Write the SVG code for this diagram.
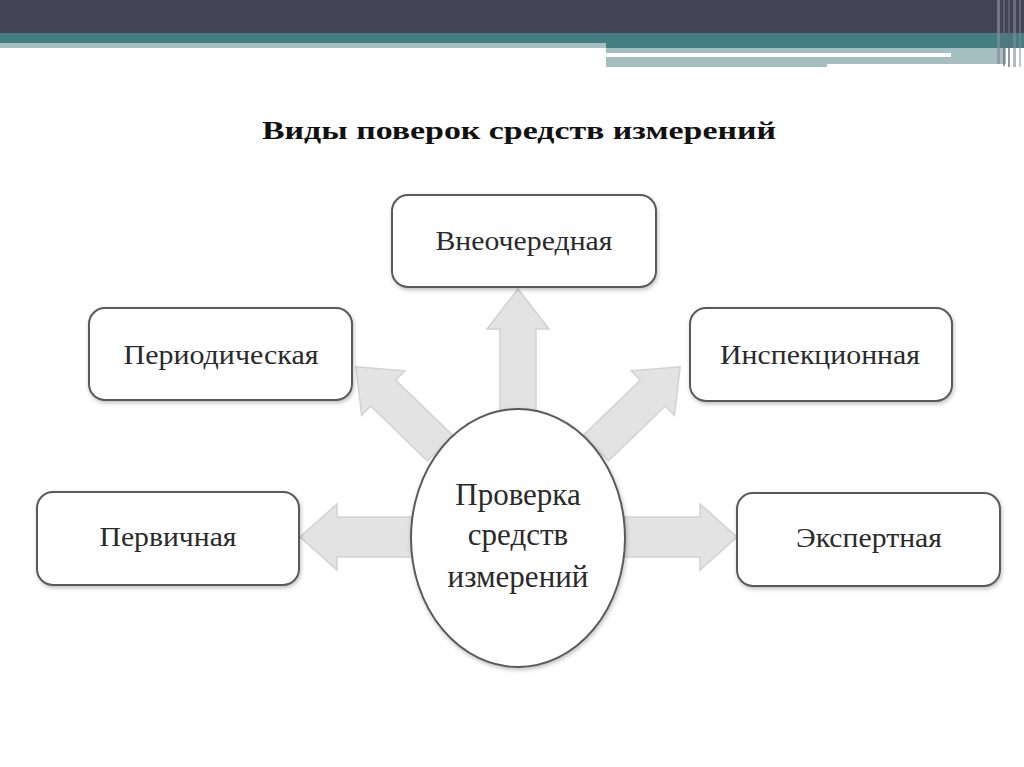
<svg xmlns="http://www.w3.org/2000/svg" width="1024" height="767" viewBox="0 0 1024 767">
<defs>
<style>
.box{fill:#fff;stroke:#5a5a5a;stroke-width:2}
.lbl{font-family:"Liberation Serif",serif;font-size:27px;fill:#2a2a2a;text-anchor:middle}
.ctr{font-family:"Liberation Serif",serif;font-size:31px;fill:#2a2a2a;text-anchor:middle}
.arr{fill:#e3e3e3;stroke:#d2d2d2;stroke-width:1.5}
</style>
<filter id="sh" x="-10%" y="-10%" width="120%" height="130%">
<feDropShadow dx="1" dy="2" stdDeviation="2" flood-color="#000" flood-opacity="0.25"/>
</filter>
</defs>
<rect width="1024" height="767" fill="#fff"/>
<g id="header">
<rect x="0" y="0" width="1024" height="33" fill="#434356"/>
<rect x="0" y="33" width="1024" height="15" fill="#437e83"/>
<rect x="0" y="43" width="606" height="5" fill="#a5bfc1"/>
<rect x="606" y="48" width="400" height="5" fill="#a5bfc1"/>
<rect x="606" y="53" width="345" height="4" fill="#fff"/>
<rect x="951" y="53" width="55" height="4" fill="#a5bfc1"/>
<rect x="606" y="57" width="221" height="10" fill="#a5bfc1"/>
<rect x="827" y="57" width="179" height="7" fill="#a5bfc1"/>
<rect x="997" y="0" width="3" height="64" fill="#8a8a9a" opacity="0.7"/>
<rect x="1003" y="0" width="2" height="66" fill="#6a6a7a" opacity="0.7"/>
<rect x="1008" y="0" width="2" height="67" fill="#6a6a7a" opacity="0.7"/>
<rect x="1013" y="0" width="3" height="67" fill="#8a8a9a" opacity="0.6"/>
<rect x="1019" y="0" width="2" height="67" fill="#8a8a9a" opacity="0.5"/>
</g>
<text x="519" y="139" font-family="Liberation Serif,serif" font-size="26" font-weight="bold" fill="#111" text-anchor="middle" textLength="514" lengthAdjust="spacingAndGlyphs">Виды поверок средств измерений</text>
<g id="connectors">
<polygon class="arr" transform="translate(518,420) rotate(-90)" points="0,-18 91,-18 91,-31 131,0 91,31 91,18 0,18"/>
<polygon class="arr" transform="translate(440,448) rotate(-136)" points="0,-18 79,-18 79,-31 117,0 79,31 79,18 0,18"/>
<polygon class="arr" transform="translate(596,448) rotate(-44)" points="0,-18 79,-18 79,-31 117,0 79,31 79,18 0,18"/>
<polygon class="arr" transform="translate(425,537) rotate(180)" points="0,-20 88,-20 88,-33 125,0 88,33 88,20 0,20"/>
<polygon class="arr" transform="translate(611,537)" points="0,-20 89,-20 89,-33 126,0 89,33 89,20 0,20"/>
</g>
<g id="center">
<ellipse cx="518" cy="538" rx="107" ry="129" class="box" filter="url(#sh)"/>
<text class="ctr" x="518" y="505">Проверка</text>
<text class="ctr" x="518" y="545">средств</text>
<text class="ctr" x="518" y="587">измерений</text>
</g>
<g id="vneocherednaya">
<rect x="392" y="195" width="264" height="92" rx="16" class="box" filter="url(#sh)"/>
<text class="lbl" x="524" y="250" textLength="177" lengthAdjust="spacingAndGlyphs">Внеочередная</text>
</g>
<g id="periodicheskaya">
<rect x="89" y="308" width="263" height="92" rx="16" class="box" filter="url(#sh)"/>
<text class="lbl" x="221" y="364" textLength="195" lengthAdjust="spacingAndGlyphs">Периодическая</text>
</g>
<g id="inspekcionnaya">
<rect x="690" y="308" width="262" height="93" rx="16" class="box" filter="url(#sh)"/>
<text class="lbl" x="820" y="364" textLength="200" lengthAdjust="spacingAndGlyphs">Инспекционная</text>
</g>
<g id="pervichnaya">
<rect x="37" y="492" width="262" height="93" rx="16" class="box" filter="url(#sh)"/>
<text class="lbl" x="168" y="546" textLength="137" lengthAdjust="spacingAndGlyphs">Первичная</text>
</g>
<g id="ekspertnaya">
<rect x="737" y="493" width="263" height="93" rx="16" class="box" filter="url(#sh)"/>
<text class="lbl" x="869" y="547" textLength="146" lengthAdjust="spacingAndGlyphs">Экспертная</text>
</g>
</svg>
